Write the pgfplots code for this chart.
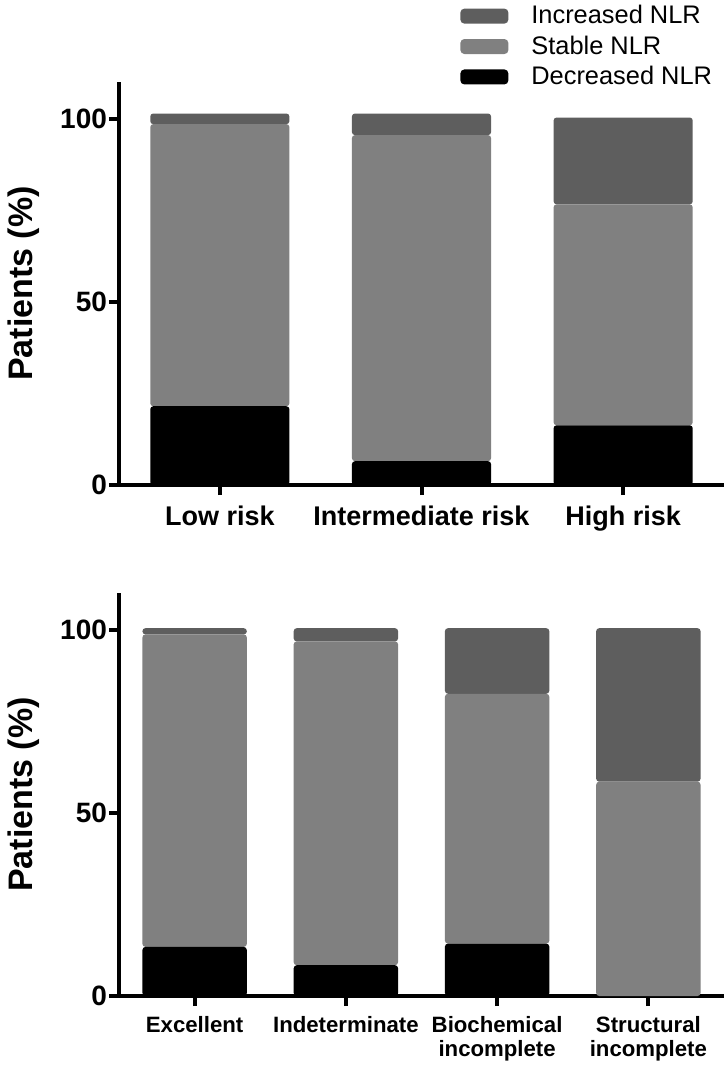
\documentclass[border=0pt]{standalone}
\usepackage{fontspec}
\setmainfont{Liberation Sans}
\usepackage{pgfplots}
\pgfplotsset{compat=1.18}
\definecolor{incc}{HTML}{5E5E5E}
\definecolor{stabc}{HTML}{808080}
\pgfplotsset{
  prism/.style={
    width=302.5pt, height=201.5pt, scale only axis,
    ymin=0, ymax=110, ytick={0,50,100},
    axis lines*=left,
    axis line style={line width=2pt},
    tick style={line width=2pt, black},
    tick align=outside, major tick length=5pt,
    ybar stacked, bar width=0.69,
    /pgf/number format/assume math mode=true,
    yticklabel style={font=\fontsize{14}{16}\selectfont\bfseries, xshift=2.5pt},
    ylabel={Patients (\%)},
    ylabel style={at={(axis description cs:-0.157,0.5)}, anchor=center, font=\fontsize{17}{19}\selectfont\bfseries},
  },
  sw/.style={legend image code/.code={\fill[##1, rounded corners=2pt] (0pt,-3.75pt) rectangle (24pt,3.75pt);}},
}
\begin{document}
\begin{tikzpicture}
\useasboundingbox (0,0) rectangle (362pt,-532.5pt);
% ---------- top panel ----------
\begin{axis}[prism,
  at={(59.5pt,-242.5pt)}, anchor=south west,
  xmin=-0.5, xmax=2.5,
  xtick={0,1,2},
  xticklabels={Low risk, Intermediate risk, High risk},
  xticklabel style={font=\fontsize{13.5}{15}\selectfont\bfseries, yshift=-2pt},
  reverse legend,
  legend style={at={(0.5636,1.1935)}, anchor=north west, draw=none, fill=none,
    font=\fontsize{12.7}{14}\selectfont, inner sep=0pt, row sep=3.5pt,
    nodes={inner sep=0.5pt}},
  legend cell align=left,
  legend columns=1,
  /tikz/every odd column/.append style={column sep=11pt},
]
\addplot[fill=black, draw=none, rounded corners=1.5pt, sw] coordinates {(0,21.5) (1,6.5) (2,16.3)};
\addplot[fill=stabc, draw=none, rounded corners=1.5pt, sw] coordinates {(0,77.0) (1,89.0) (2,60.3)};
\addplot[fill=incc, draw=none, rounded corners=1.5pt, sw] coordinates {(0,2.9) (1,5.9) (2,23.7)};
\legend{Decreased NLR, Stable NLR, Increased NLR}
\end{axis}
% ---------- bottom panel ----------
\begin{axis}[prism,
  at={(59.5pt,-498pt)}, anchor=south west,
  xmin=-0.5, xmax=3.5,
  xtick={0,1,2,3},
  xticklabels={Excellent, Indeterminate, Biochemical\\incomplete, Structural\\incomplete},
  xticklabel style={font=\fontsize{11.1}{12}\selectfont\bfseries, align=center, yshift=-1.5pt},
]
\addplot[fill=black, draw=none, rounded corners=1.5pt] coordinates {(0,13.4) (1,8.4) (2,14.3) (3,0)};
\addplot[fill=stabc, draw=none, rounded corners=1.5pt] coordinates {(0,85.3) (1,88.4) (2,68.2) (3,58.5)};
\addplot[fill=incc, draw=none, rounded corners=1.5pt] coordinates {(0,1.7) (1,3.6) (2,17.9) (3,41.9)};
\end{axis}
\end{tikzpicture}
\end{document}
